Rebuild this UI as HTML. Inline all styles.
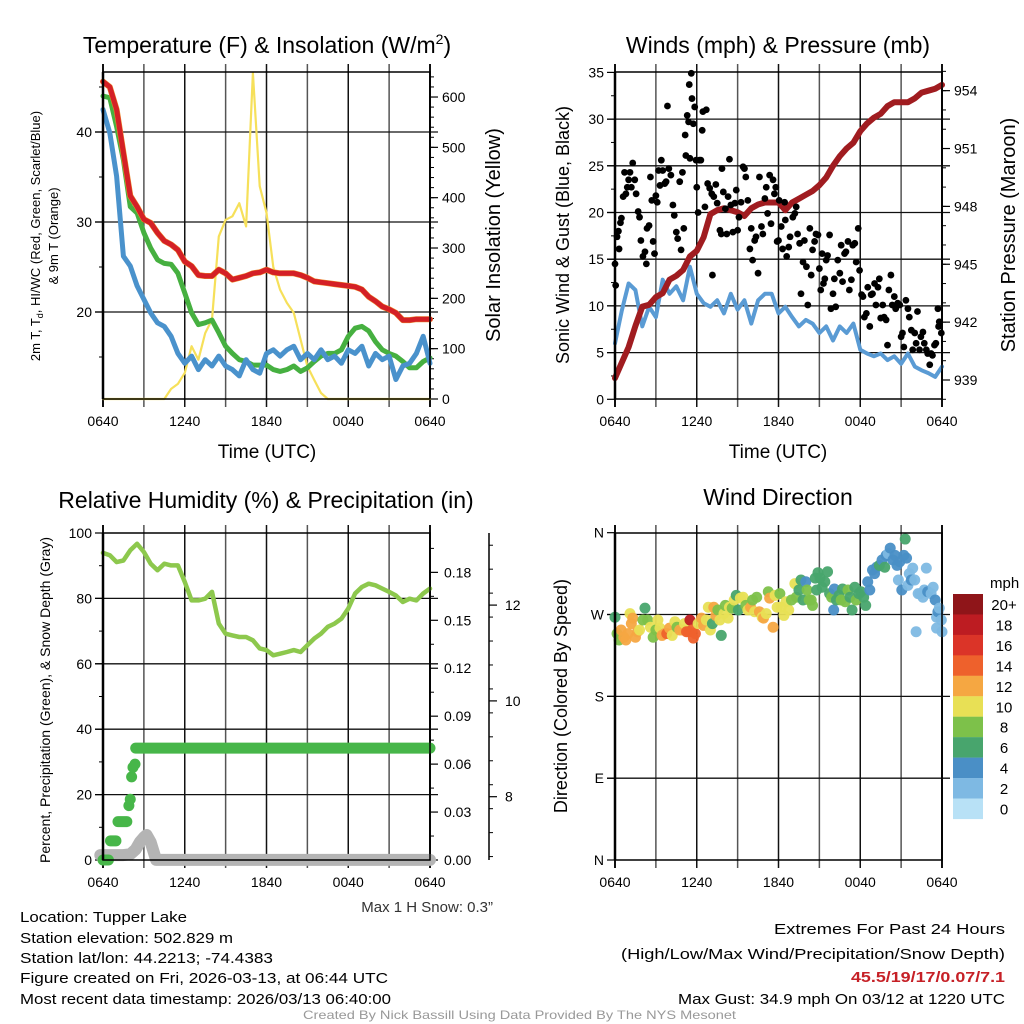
<!DOCTYPE html>
<html><head><meta charset="utf-8"><style>
html,body{margin:0;padding:0;background:#fff;}
svg{display:block;font-family:"Liberation Sans",sans-serif;}
</style></head><body>
<svg id="c" width="1024" height="1024" viewBox="0 0 1024 1024">
<g id="bg"></g>
</svg>
<script>
// ===== data =====
const tempRed=[45.6,45,42.5,37.7,32.9,31.7,30.3,29.9,28.8,27.9,27.5,26.9,25.6,25.1,24.1,24,24,24.7,24.3,23.6,23.8,24,24.3,24.4,24.7,24.4,24.3,24.3,24.3,24.1,23.8,23.4,23.3,23.2,23.1,23,22.9,22.8,22.5,21.7,21.2,20.6,20.3,19.9,19.1,19.1,19.2,19.2,19.2];
const tempGreen=[44,43.8,40.6,36.9,31.7,31,28.8,27.1,25.8,25.4,25.3,24.3,22.1,19.9,18.6,18.8,19.1,17.7,16.2,15.4,14.7,14.5,14.1,14.1,14.1,13.6,13.4,13.6,14,13.4,13.8,14.5,15.1,15.4,15.4,15.8,17.3,18.2,18.4,17.9,16.7,15.8,15.4,15.1,14.5,13.8,13.8,14.5,14.9];
const tempBlue=[42.5,39.9,35.1,26.2,25.1,22.9,21.4,19.9,18.8,18.4,17.3,15.4,14.3,15.1,13.6,14.7,14,15.1,14,13.6,12.9,14.7,13.6,13.2,15.4,15.8,15.1,15.8,16.2,14.7,15.4,14.7,15.8,14.7,15.1,14.3,15.8,15.4,16.2,14,15.4,14.7,15.1,12.5,14,14.3,15.4,17.3,14.3];
const solar=[0,0,0,0,0,0,0,0,0,0,20,30,52,105,78,131,158,323,356,363,389,343,648,423,370,262,217,191,171,118,65,38,12,0,0,0,0,0,0,0,0,0,0,0,0,0,0,0,0];
const windSpeed=[6,9.5,12.4,11.7,7.8,9.9,8.8,12.8,11.3,12.1,10.6,14.2,11.3,10.3,9.9,10.6,9.2,11.3,9.6,10.6,8.1,10.6,11.3,11.3,9.2,9.9,8.8,7.8,8.5,8.1,7.1,7.8,6.3,7.8,7.1,8.1,5.3,4.9,4.6,4.9,4.2,4.6,3.8,4.9,3.5,3.1,2.8,2.4,3.5];
const pressure=[939.1,939.9,940.7,941.8,942.8,942.9,943.3,943.5,944.2,944.4,944.7,945.4,945.7,946.4,947.6,947.8,947.9,947.8,947.7,947.5,947.9,948.1,948.2,948.2,948.2,947.8,948.2,948.4,948.6,948.8,949.1,949.5,950.1,950.6,951,951.3,951.9,952.3,952.6,952.8,953.2,953.4,953.4,953.4,953.6,953.9,954,954.1,954.3];
const gustHours=[0,0.05,0.15,0.25,0.3,0.4,0.47,0.6,0.7,0.8,0.9,1.0,1.1,1.2,1.3,1.45,1.55,1.7,1.8,1.9,2.05,2.2,2.3,2.35,2.5,2.6,2.7,2.8,2.9,3.0,3.1,3.2,3.3,3.4,3.5,3.65,3.75,3.85,3.95,4.1,4.25,4.35,4.5,4.6,4.75,4.85,4.95,5.05,5.15,5.2,5.3,5.4,5.45,5.5,5.6,5.65,5.75,5.85,5.95,6.0,6.1,6.2,6.3,6.4,6.45,6.6,6.7,6.8,6.95,7.1,7.15,7.25,7.4,7.5,7.7,7.8,7.85,7.95,8.1,8.2,8.3,8.4,8.5,8.65,8.8,8.9,9.0,9.1,9.25,9.4,9.5,9.6,9.75,9.9,10.0,10.1,10.25,10.35,10.5,10.6,10.75,10.85,11.0,11.1,11.2,11.35,11.45,11.6,11.7,11.8,11.9,12.0,12.05,12.2,12.3,12.45,12.5,12.6,12.75,12.85,13.05,13.2,13.3,13.4,13.55,13.65,13.8,13.9,14.05,14.15,14.3,14.4,14.5,14.65,14.75,14.9,15.0,15.1,15.2,15.3,15.4,15.5,15.6,15.75,15.85,16.0,16.1,16.2,16.35,16.5,16.6,16.7,16.85,16.95,17.1,17.2,17.35,17.45,17.6,17.7,17.85,17.95,18.1,18.2,18.3,18.45,18.55,18.7,18.8,18.9,19.05,19.15,19.3,19.4,19.5,19.65,19.75,19.9,20.0,20.1,20.25,20.35,20.5,20.6,20.75,20.9,21.0,21.1,21.2,21.35,21.5,21.6,21.75,21.85,22.0,22.1,22.2,22.35,22.45,22.6,22.7,22.85,22.95,23.1,23.2,23.3,23.45,23.55,23.7,23.75,23.8,23.95];
const gustMph=[14.5,12.2,17.4,18,16.1,18.9,19.4,21.7,24.3,22,22.7,23.5,24.3,22.7,25.3,23.5,22,20.1,19.5,17,15.3,15.8,14.5,18.3,18.6,23.8,21.3,16.9,15.6,21.8,21.1,24.5,22.9,25.6,24.5,23.1,23.3,31.4,24.7,24,20.8,19.7,17.9,17.2,23.3,16,24.3,18.3,28.3,26.1,30.4,29.7,33.7,25.8,34.9,32.2,29.5,31.3,25.6,22.7,20,25.6,25.6,28.8,30.8,20.6,31,23.1,22.6,22,13.3,21.7,23,21,18.1,17.7,24.7,22.2,20.4,17.7,21.7,25.7,20.8,17.9,21,22.4,18.1,19.5,21.1,24.9,24.7,23.8,21.3,16.1,18.3,14.9,17,17.4,13.5,23.8,18.5,17.7,21.5,22.7,19.9,24,18.8,23.5,22,22.7,16.9,17,21.3,18.5,16.1,21.1,19.2,15.3,16.3,17.4,19.5,19.9,20.6,17.7,16.7,11.3,14.7,17,14.2,10.1,18.3,13.3,16,16.9,17.7,17.6,14,11.7,15.6,12.4,12.9,14.9,15.4,17.6,9.7,11.3,12.9,9.9,14.9,13.5,16.5,12.6,15.6,15.8,16.9,11.7,12.8,16.5,16.7,14.7,18.3,13.8,11.2,11,8.8,9.2,12,7.8,11.2,11.3,12.4,10.1,12,12.9,8.7,10.1,8.8,8.5,5.8,11.7,13.3,10.1,11,9.7,10.3,10.1,6.7,7.1,5.6,10.6,9.7,8.8,7.4,5.3,7.1,6,9.4,5.3,6.7,7.2,6,5.3,4.9,3.7,4.9,4.7,5.8,6,9.7,7.8,8.3,7.1];
const rh=[93.9,93.2,91.1,91.6,94.7,96.7,94.2,90.6,88.6,90.6,90.1,90.1,85,79.4,79.4,79.9,82,72.3,69.2,68.7,68.2,68.2,67.2,64.7,64.2,62.6,63.1,63.6,64.2,63.6,65.7,67.7,69.2,71.3,72.3,73.8,76.9,81.5,83.5,84.5,84,83,82,80.9,78.9,79.9,79.4,81.5,83];
const precipHours=[0,0.55,1.1,1.9,2.0,2.1,2.2,2.35,2.4];
const precipIn=[0,0.012,0.024,0.034,0.038,0.052,0.058,0.06,0.07];
const snowHours=[-0.2,0.5,1,1.5,2.0,2.4,2.7,3.0,3.2,3.5,3.9,6,12,18,24];
const snowIn=[6.78,6.78,6.78,6.78,6.8,6.9,7.05,7.15,7.2,7.05,6.68,6.68,6.68,6.68,6.68];
const dirHours=[0,0.15,0.3,0.45,0.65,0.8,0.95,1.1,1.2,1.3,1.5,1.65,1.8,2.05,2.2,2.4,2.6,2.8,3.0,3.15,3.3,3.45,3.65,3.8,4.0,4.2,4.4,4.55,4.75,4.95,5.1,5.25,5.4,5.5,5.65,5.75,5.9,6.1,6.35,6.5,6.7,6.85,7.0,7.15,7.25,7.4,7.55,7.7,7.8,8.0,8.1,8.3,8.4,8.6,8.75,8.9,9.05,9.2,9.4,9.6,9.75,9.95,10.1,10.25,10.4,10.6,10.8,10.9,11.1,11.25,11.35,11.6,11.75,11.9,12.1,12.2,12.4,12.55,12.75,12.95,13.2,13.3,13.5,13.65,13.8,14.0,14.1,14.25,14.4,14.5,14.7,14.8,14.9,15.05,15.2,15.4,15.6,15.75,15.9,16.05,16.1,16.25,16.45,16.6,16.7,16.9,17.1,17.25,17.4,17.6,17.7,17.9,18.05,18.25,18.4,18.55,18.7,18.9,19.05,19.2,19.4,19.6,19.8,19.9,20.05,20.2,20.4,20.55,20.7,20.8,20.9,21.05,21.2,21.3,21.4,21.5,21.6,21.75,21.85,22.0,22.1,22.25,22.4,22.6,22.7,22.85,22.95,23.2,23.35,23.5,23.6,23.7,23.8,23.95,23.6,24];
const dirDeg=[267,249,242,253,245,242,249,271,260,266,245,251,253,264,277,264,256,245,253,264,255,247,249,249,255,247,262,256,253,253,260,251,251,264,253,244,249,260,266,258,264,278,253,260,278,269,275,264,247,271,280,266,278,277,286,291,275,288,289,280,275,278,286,273,289,273,267,266,271,295,288,256,291,278,293,278,269,284,275,286,304,289,297,308,286,306,297,286,286,280,310,297,316,310,300,306,317,293,289,275,298,286,291,286,298,284,297,289,275,300,286,293,295,289,280,306,297,319,315,322,324,330,322,335,337,343,330,335,324,308,328,297,335,353,332,302,315,308,321,308,251,293,293,289,297,321,295,293,300,286,267,273,277,264,255,251];
const dirSpeed=[6,8,8,12,12,12,12,10,12,12,12,12,10,8,6,8,10,8,8,10,10,12,12,14,12,10,10,8,12,12,10,14,14,18,14,14,14,10,12,12,10,10,10,6,12,12,8,10,6,10,8,10,10,8,10,6,6,10,10,8,10,12,8,10,8,12,10,12,10,8,12,12,10,10,8,10,10,10,10,8,10,8,6,6,6,4,8,8,8,8,6,6,6,6,6,6,6,6,8,4,4,6,6,8,6,8,8,6,6,6,8,6,6,6,6,4,4,4,4,4,6,4,6,4,2,4,4,4,4,2,4,4,4,6,4,2,2,4,2,2,2,2,2,2,2,2,4,2,2,4,2,4,2,2,2,2,4,2,2,4,2,2];
const xTickLabels=["0640","1240","1840","0040","0640"];
const speedLabels=["20+","18","16","14","12","10","8","6","4","2","0"];
const speedColors=["#8f1519","#bd1c22","#db3428","#ee612c","#f5a742","#e8e055","#7dc14a","#48a56d","#4a8fc6","#7eb9e3","#b8e1f6"];

// ===== helpers =====
const NS="http://www.w3.org/2000/svg";
const svg=document.getElementById('c');
function mk(tag,at,parent){const e=document.createElementNS(NS,tag);for(const k in at)e.setAttribute(k,at[k]);(parent||svg).appendChild(e);return e;}
function txt(s,at,parent){const e=mk('text',at,parent);e.textContent=s;return e;}
function grp(name){const g=mk('g',{});return g;}

function panel(name,x0,x1,yTop,yBot){
  const g=grp(name);
  const P={x0,x1,yTop,yBot,g,hx:h=>x0+h/24*(x1-x0)};
  for(let k=0;k<=8;k++){
    const x=P.hx(k*3);
    const l=mk('line',{x1:x,x2:x,y1:yTop-8,y2:yBot+8,stroke:(k%2?'#555':'#111'),'stroke-width':(k==0||k==8)?2:1.5},g);
    
  }
  for(let k=0;k<5;k++){
    const t=txt(xTickLabels[k],{x:P.hx(k*6),y:yBot+27,'font-size':14,'text-anchor':'middle',fill:'#000'},g);
    
  }
  return P;
}
function hline(P,y){mk('line',{x1:P.x0-8,x2:P.x1+8,y1:y,y2:y,stroke:'#111','stroke-width':1.3},P.g);}
function border(P){
  const r=mk('rect',{x:P.x0,y:P.yTop,width:P.x1-P.x0,height:P.yBot-P.yTop,fill:'none',stroke:'#000','stroke-width':1.5},P.g);
  
  mk('line',{x1:P.x0,x2:P.x0,y1:P.yTop,y2:P.yBot,stroke:'#000','stroke-width':2.5},P.g);
}
function leftTicks(P,vals,fy,labels,minor){
  vals.forEach((v,i)=>{const y=fy(v);mk('line',{x1:P.x0-8,x2:P.x0,y1:y,y2:y,stroke:'#000','stroke-width':1.2},P.g);
    const t=txt(labels[i],{x:P.x0-11,y:y+5,'font-size':14,'text-anchor':'end'},P.g);
    });
  minor.forEach(v=>{const y=fy(v);mk('line',{x1:P.x0-4,x2:P.x0,y1:y,y2:y,stroke:'#000','stroke-width':1},P.g);});
}
function rightTicks(P,ax,vals,fy,labels,minor,lx){
  vals.forEach((v,i)=>{const y=fy(v);mk('line',{x1:ax,x2:ax+8,y1:y,y2:y,stroke:'#000','stroke-width':1.2},P.g);
    const t=txt(labels[i],{x:lx,y:y+5,'font-size':14,'text-anchor':'start'},P.g);
    });
  minor.forEach(v=>{const y=fy(v);mk('line',{x1:ax,x2:ax+4,y1:y,y2:y,stroke:'#000','stroke-width':1},P.g);});
}
function series(P,vals,fy,color,w,name){
  const pts=vals.map((v,i)=>P.hx(i*0.5).toFixed(1)+','+fy(v).toFixed(1)).join(' ');
  const p=mk('polyline',{points:pts,fill:'none',stroke:color,'stroke-width':w,'stroke-linejoin':'round','stroke-linecap':'round'},P.g);
  
  return p;
}
function range(a,b,s){const r=[];for(let v=a;v<=b+1e-9;v+=s)r.push(+v.toFixed(4));return r;}
function rotLabel(s,x,y,size,name){const t=txt(s,{x:x,y:y,'font-size':size,'text-anchor':'middle',transform:`rotate(-90 ${x} ${y})`});return t;}

// ===== Panel 1: Temperature =====
{
const P=panel('temperature-panel',103,430,72,399);
const fy=T=>312-(T-20)*9, fs=W=>399-W*0.5033;
[20,30,40].forEach(v=>hline(P,fy(v)));
leftTicks(P,[20,30,40],fy,['20','30','40'],[15,25,35,45]);
rightTicks(P,P.x1,range(0,600,100),fs,['0','100','200','300','400','500','600'],range(20,640,20),P.x1+12);
series(P,solar,fs,'#f6e05a',2.2,'solar-insolation-line');
series(P,tempGreen,fy,'#46b040',5,'hiwc-green-line');
series(P,tempBlue,fy,'#4a92cc',5,'dewpoint-blue-line');
series(P,tempRed,fy,'#ee8a2a',6,'9m-temp-orange-line');
series(P,tempRed,fy,'#d42026',5,'2m-temp-red-line');
border(P);
const t=txt('',{x:267,y:53,'font-size':23,'text-anchor':'middle'});
t.innerHTML='Temperature (F) &amp; Insolation (W/m<tspan dy="-9" font-size="14">2</tspan><tspan dy="9">)</tspan>';
const xl=txt('Time (UTC)',{x:267,y:458,'font-size':19,'text-anchor':'middle'});
const l1=txt('',{x:40,y:236,'font-size':13,'text-anchor':'middle',transform:'rotate(-90 40 236)'});

l1.innerHTML='2m T, T<tspan font-size="9" dy="3">d</tspan><tspan dy="-3">, HI/WC (Red, Green, Scarlet/Blue)</tspan>';
rotLabel('& 9m T (Orange)',58,236,13,'temperature-y-axis-title-2');
rotLabel('Solar Insolation (Yellow)',500,235,20,'solar-y-axis-title');
}
// ===== Panel 2: Winds =====
{
const P=panel('winds-panel',615,942,72,399);
const fy=v=>399.3-v*9.34, fp=p=>380-(p-939)*19.29;
range(5,30,5).forEach(v=>hline(P,fy(v)));
leftTicks(P,range(0,35,5),fy,['0','5','10','15','20','25','30','35'],range(2.5,32.5,5));
rightTicks(P,P.x1,[939,942,945,948,951,954],fp,['939','942','945','948','951','954'],range(938,955,1),P.x1+12);
series(P,windSpeed,fy,'#5a9bd4',4,'sonic-wind-line');
series(P,pressure,fp,'#a01c20',6,'station-pressure-line');
for(let i=0;i<gustHours.length;i++){
  const c=mk('circle',{cx:P.hx(gustHours[i]),cy:fy(gustMph[i]),r:3.4,fill:'#000'},P.g);
  
  
}
border(P);
const t=txt('Winds (mph) & Pressure (mb)',{x:778,y:53,'font-size':23,'text-anchor':'middle'});
const xl=txt('Time (UTC)',{x:778,y:458,'font-size':19,'text-anchor':'middle'});
rotLabel('Sonic Wind & Gust (Blue, Black)',569,235,18,'wind-y-axis-title');
rotLabel('Station Pressure (Maroon)',1015,235,20,'pressure-y-axis-title');
}
// ===== Panel 3: RH & precip =====
{
const P=panel('humidity-panel',103,430,533,860);
const fy=v=>860-v*3.27, fpr=v=>860-v*1598, fsn=v=>796.7-(v-8)*47.9;
range(20,80,20).forEach(v=>hline(P,fy(v)));
leftTicks(P,range(0,100,20),fy,['0','20','40','60','80','100'],range(10,90,20));
rightTicks(P,P.x1,range(0,0.18,0.03),fpr,['0.00','0.03','0.06','0.09','0.12','0.15','0.18'],range(0.015,0.195,0.03),P.x1+14);
mk('line',{x1:489,x2:489,y1:533,y2:860,stroke:'#000','stroke-width':1.5},P.g);
rightTicks(P,489,[8,10,12],fsn,['8','10','12'],range(6.75,13.25,0.5).filter(v=>fsn(v)>=533&&fsn(v)<=860),505);
const sp=mk('polyline',{points:snowHours.map((h,i)=>P.hx(h).toFixed(1)+','+fsn(snowIn[i]).toFixed(1)).join(' '),fill:'none',stroke:'#b4b4b4','stroke-width':12,'stroke-linecap':'round','stroke-linejoin':'round'},P.g);

for(let i=0;i<precipHours.length;i++){
  const h2=i<precipHours.length-1?precipHours[i+1]-0.15:24;
  const y=fpr(precipIn[i]);
  const s=mk('line',{x1:P.hx(precipHours[i]),x2:P.hx(Math.max(h2,precipHours[i])),y1:y,y2:y,stroke:'#47b649','stroke-width':11,'stroke-linecap':'round'},P.g);
  
  
}
series(P,rh,fy,'#8dc84d',4.5,'relative-humidity-line');
border(P);
const t=txt('Relative Humidity (%) & Precipitation (in)',{x:266,y:508,'font-size':23,'text-anchor':'middle'});
rotLabel('Percent, Precipitation (Green), & Snow Depth (Gray)',50,700,14,'humidity-y-axis-title');
const ms=txt('Max 1 H Snow: 0.3\u201D',{x:493,y:912,'font-size':15,'text-anchor':'end',fill:'#333'});
}
// ===== Panel 4: wind direction =====
{
const P=panel('wind-direction-panel',615,942,533,860);
const fy=d=>860-d*0.9092;
[90,180,270].forEach(v=>hline(P,fy(v)));
leftTicks(P,[0,90,180,270,360],fy,['N','E','S','W','N'],[]);
for(let i=0;i<dirHours.length;i++){
  const sp=(dirSpeed[i]===undefined)?2:dirSpeed[i];
  const idx=Math.max(0,Math.min(10,10-Math.floor((sp+0.5)/2)));
  const c=mk('circle',{cx:P.hx(dirHours[i]),cy:fy(dirDeg[i]),r:5.5,fill:speedColors[idx],opacity:0.95},P.g);
  
  
}
border(P);
const t=txt('Wind Direction',{x:778,y:505,'font-size':23,'text-anchor':'middle'});
rotLabel('Direction (Colored By Speed)',567,696,18,'direction-y-axis-title');
const lg=grp('speed-colorbar');
const u=txt('mph',{x:990,y:588,'font-size':15},lg);
for(let k=0;k<11;k++){
  const y=594+k*20.45;
  const r=mk('rect',{x:953,y:y,width:30,height:20.6,fill:speedColors[k]},lg);
  
  
  const l=txt(speedLabels[k],{x:1004,y:y+16,'font-size':15,'text-anchor':'middle'},lg);
  
  
}
}
// ===== footer =====
{
const g=grp('footer');
const L=[['Location: Tupper Lake',922,167],['Station elevation: 502.829 m',943,213],['Station lat/lon: 44.2213; -74.4383',963,253],['Figure created on Fri, 2026-03-13, at 06:44 UTC',983,368],['Most recent data timestamp: 2026/03/13 06:40:00',1004,371]];
L.forEach(a=>{const t=txt(a[0],{x:20,y:a[1],'font-size':15,textLength:a[2],lengthAdjust:'spacingAndGlyphs'},g);});
const R=[['Extremes For Past 24 Hours',934,231,'#000','normal'],['(High/Low/Max Wind/Precipitation/Snow Depth)',959,384,'#000','normal'],['45.5/19/17/0.07/7.1',982,154,'#c62026','bold'],['Max Gust: 34.9 mph On 03/12 at 1220 UTC',1004,327,'#000','normal']];
R.forEach(a=>{const t=txt(a[0],{x:1005,y:a[1],'font-size':15,'text-anchor':'end',fill:a[3],'font-weight':a[4],textLength:a[2],lengthAdjust:'spacingAndGlyphs'},g);});
const cr=txt('Created By Nick Bassill Using Data Provided By The NYS Mesonet',{x:303,y:1019,'font-size':12,fill:'#999',textLength:433,lengthAdjust:'spacingAndGlyphs'},g);

}
</script>
</body></html>
